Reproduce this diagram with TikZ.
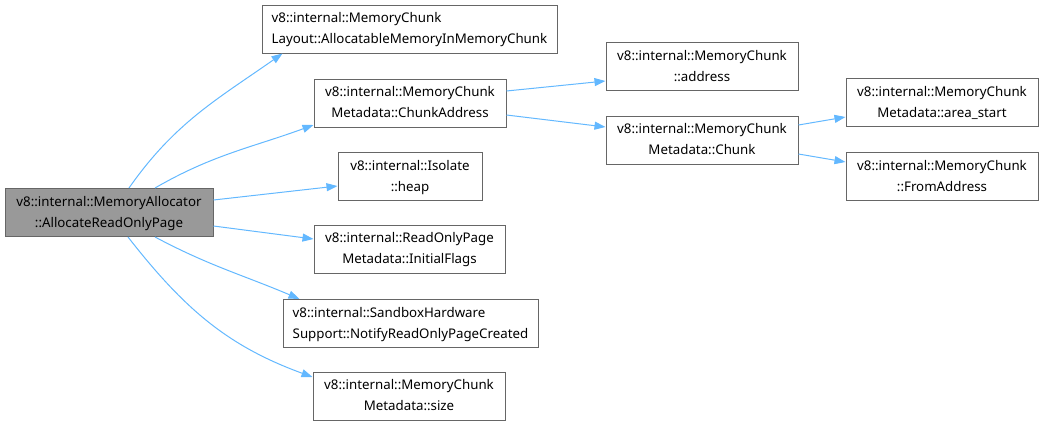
\documentclass[tikz,border=0pt]{standalone}
\usepackage{fontspec}
\setmainfont{Noto Sans}
\usetikzlibrary{arrows.meta}
\definecolor{edgeblue}{HTML}{63B8FF}
\definecolor{boxgrey}{HTML}{666666}
\definecolor{rootgrey}{HTML}{999999}

% first line flush left, second line centred under it
\newcommand{\fnlabel}[2]{\begin{tabular}{@{}c@{}}\multicolumn{1}{@{}l@{}}{#1}\\#2\end{tabular}}

\tikzset{
  fn/.style={draw=boxgrey, line width=1pt, fill=white, inner sep=0pt,
             minimum height=48pt, font=\fontsize{13.3}{21}\selectfont},
  call/.style={edgeblue, line width=1pt, -{Triangle[length=11pt,width=8pt]}},
}

\begin{document}
\begin{tikzpicture}[x=1pt, y=-1pt]
  \useasboundingbox (0,0) rectangle (1044,426);

  % -- the caller ----------------------------------------------------------
  \node[fn, fill=rootgrey, minimum width=208pt] (root) at (109,212.5)
    {\fnlabel{v8::internal::MemoryAllocator}{::AllocateReadOnlyPage}};

  % -- first column of callees ---------------------------------------------
  \node[fn, minimum width=295pt] (layout) at (409.5,29)
    {\fnlabel{v8::internal::MemoryChunk}{Layout::AllocatableMemoryInMemoryChunk}};
  \node[fn, minimum width=192pt] (chunkaddr) at (410,103)
    {\fnlabel{v8::internal::MemoryChunk}{Metadata::ChunkAddress}};
  \node[fn, minimum width=144pt] (heap) at (410,176.5)
    {\fnlabel{v8::internal::Isolate}{::heap}};
  \node[fn, minimum width=191pt] (flags) at (409.5,249)
    {\fnlabel{v8::internal::ReadOnlyPage}{Metadata::InitialFlags}};
  \node[fn, minimum width=255pt] (sandbox) at (410.5,323.5)
    {\fnlabel{v8::internal::SandboxHardware}{Support::NotifyReadOnlyPageCreated}};
  \node[fn, minimum width=192pt] (size) at (409,396)
    {\fnlabel{v8::internal::MemoryChunk}{Metadata::size}};

  % -- second and third column ---------------------------------------------
  \node[fn, minimum width=192pt] (address) at (702,66.5)
    {\fnlabel{v8::internal::MemoryChunk}{::address}};
  \node[fn, minimum width=192pt] (chunk) at (702,140)
    {\fnlabel{v8::internal::MemoryChunk}{Metadata::Chunk}};
  \node[fn, minimum width=192pt] (areastart) at (942,102.5)
    {\fnlabel{v8::internal::MemoryChunk}{Metadata::area\_start}};
  \node[fn, minimum width=192pt] (fromaddr) at (942,176.5)
    {\fnlabel{v8::internal::MemoryChunk}{::FromAddress}};

  % -- bent calls out of the top and bottom of the caller --------------------
  \draw[call] ([xshift=20pt]root.north) to[out=55, in=215] ([xshift=21pt]layout.south west);
  \draw[call] ([xshift=46pt]root.north) to[out=30, in=200] ([yshift=-22pt]chunkaddr.west);
  \draw[call] ([xshift=46pt]root.south) to[out=-28, in=157] ([xshift=17pt]sandbox.north west);
  \draw[call] ([xshift=19pt]root.south) to[out=-52, in=160] ([yshift=19pt]size.west);

  % -- straight calls, east side to west side --------------------------------
  \foreach \a/\sa/\b/\sb in {root/12.5/heap/-9.5, root/-13.5/flags/10,
                             chunkaddr/12/address/-14.5, chunkaddr/-12/chunk/13,
                             chunk/15/areastart/-14.5, chunk/-14/fromaddr/14.5}{
    \draw[call] ([yshift=\sa pt]\a.east) -- ([yshift=\sb pt]\b.west);}

\end{tikzpicture}
\end{document}
